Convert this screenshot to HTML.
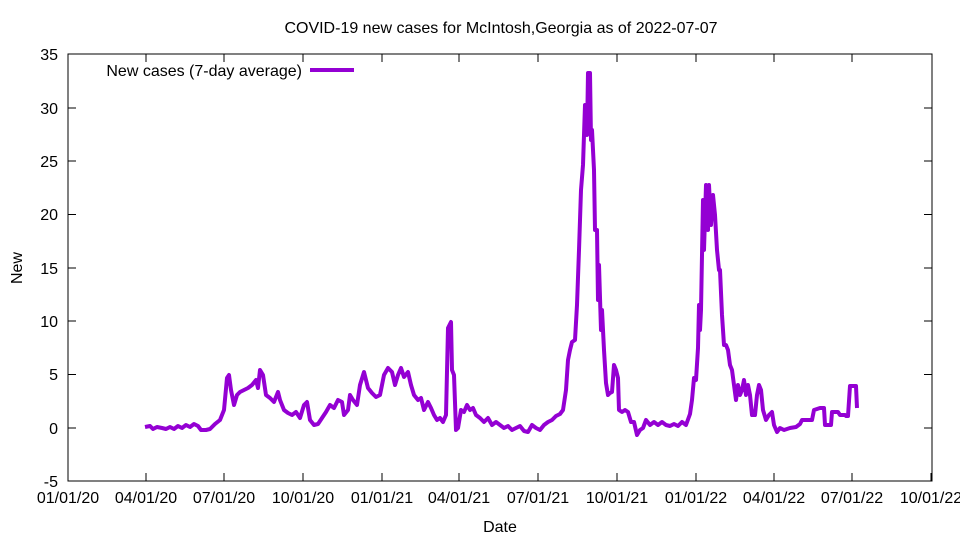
<!DOCTYPE html>
<html><head><meta charset="utf-8"><style>body{margin:0;background:#fff}svg{display:block}text{font-family:"Liberation Sans",sans-serif;font-size:16px;fill:#000}</style></head><body>
<svg width="960" height="540" viewBox="0 0 960 540">
<rect x="68" y="54" width="864" height="427" fill="none" stroke="#000" stroke-width="1"/>
<g stroke="#000" stroke-width="1">
<path d="M68 481h8M932 481h-8M68 428h8M932 428h-8M68 374.5h8M932 374.5h-8M68 321h8M932 321h-8M68 268h8M932 268h-8M68 214.5h8M932 214.5h-8M68 161h8M932 161h-8M68 108h8M932 108h-8M68 54h8M932 54h-8"/>
<path d="M68 481v-8M146 481v-8M224 481v-8M303 481v-8M382 481v-8M459 481v-8M538 481v-8M617 481v-8M696 481v-8M774 481v-8M852 481v-8M931 481v-8M146 54v8M224 54v8M303 54v8M382 54v8M459 54v8M538 54v8M617 54v8M696 54v8M774 54v8M852 54v8"/>
</g>
<g text-anchor="end">
<text x="58" y="487">-5</text><text x="58" y="434">0</text><text x="58" y="380">5</text><text x="58" y="327">10</text><text x="58" y="274">15</text><text x="58" y="220">20</text><text x="58" y="167">25</text><text x="58" y="114">30</text><text x="58" y="60">35</text>
</g>
<g text-anchor="middle">
<text x="68" y="503">01/01/20</text><text x="146" y="503">04/01/20</text><text x="224" y="503">07/01/20</text><text x="303" y="503">10/01/20</text><text x="382" y="503">01/01/21</text><text x="459" y="503">04/01/21</text><text x="538" y="503">07/01/21</text><text x="617" y="503">10/01/21</text><text x="696" y="503">01/01/22</text><text x="774" y="503">04/01/22</text><text x="852" y="503">07/01/22</text><text x="931" y="503">10/01/22</text>
<text x="500" y="532">Date</text>
<text x="501" y="33">COVID-19 new cases for McIntosh,Georgia as of 2022-07-07</text>
<text x="22" y="268" transform="rotate(-90 22 268)">New</text>
</g>
<text x="302" y="76" text-anchor="end">New cases (7-day average)</text>
<path d="M310 70H354" stroke="#9400d3" stroke-width="4"/>
<polyline fill="none" stroke="#9400d3" stroke-width="4" stroke-linejoin="round" points="145,427 150,426 153,429 157,427 162,428 166,429 170,427 174,429 178,426 182,428 186,425 190,427 194,424 198,426 201,430 206,430 210,429 215,424 220,420 224,410 227,378 229,375 231,390 234,405 237,395 240,392 244,390 248,388 252,385 256,380 258,388 260,370 263,375 266,395 270,398 274,402 278,392 280,400 284,410 288,413 292,415 296,412 300,418 304,405 307,402 310,420 314,425 318,424 322,418 326,412 330,405 334,408 338,400 342,402 344,415 348,410 350,395 353,400 357,405 360,385 364,372 368,388 372,393 376,397 380,395 384,375 388,368 392,372 395,385 398,375 401,368 404,377 408,372 411,385 414,395 418,400 421,398 424,410 428,402 431,408 434,415 437,420 440,418 443,422 446,415 448,328 451,322 452,370 454,375 456,430 458,428 461,410 464,412 467,405 470,410 473,408 476,415 480,418 484,422 488,418 492,425 496,422 500,425 504,428 508,426 512,430 516,428 520,426 524,431 528,432 532,425 536,428 540,430 544,425 548,422 552,420 556,416 560,414 563,410 566,390 568,360 570,350 572,342 575,340 577,305 579,250 581,190 583,165 585,105 587,135 588,73 590,73 591,140 592,130 594,170 595,230 597,230 598,300 599,265 601,330 602,310 604,350 606,383 608,395 610,393 612,392 614,365 616,370 618,378 619,410 622,412 625,410 628,412 631,422 634,422 637,435 640,430 643,428 646,420 650,425 654,422 658,425 662,422 666,425 670,426 674,424 678,426 682,422 686,425 690,414 692,400 694,378 696,380 698,348 699,305 700,330 701,310 703,200 704,250 706,185 708,230 709,185 711,225 713,195 715,215 717,250 719,270 720,270 722,315 724,345 726,345 728,350 730,365 732,370 734,385 736,400 738,385 740,395 742,390 744,380 746,395 748,385 750,395 752,415 755,415 757,395 759,385 761,390 763,410 766,420 769,415 772,412 774,425 777,432 780,428 784,430 790,428 796,427 800,424 802,420 812,420 814,410 820,408 824,408 825,425 831,425 832,412 838,412 840,415 845,415 846,416 848,416 850,386 856,386 857,408"/>
</svg>
</body></html>
